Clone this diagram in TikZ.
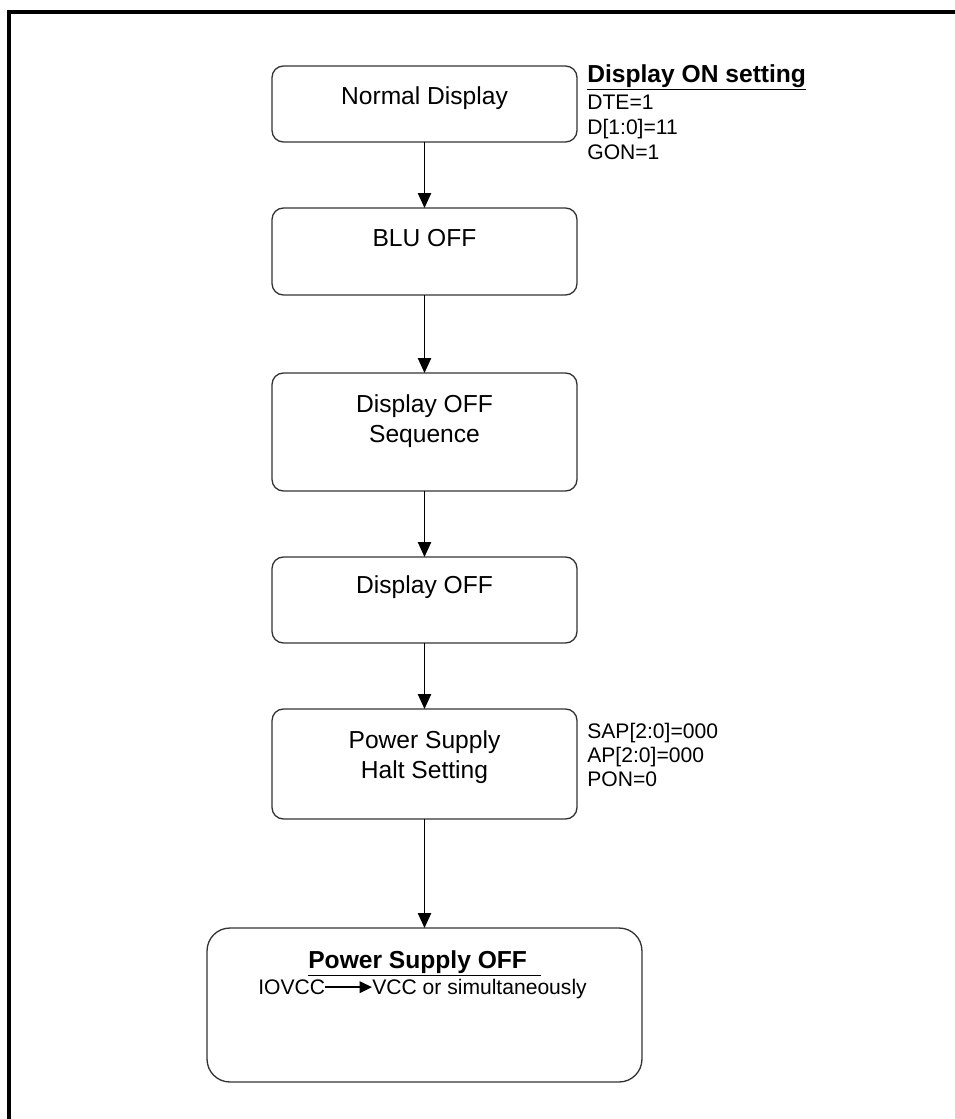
\documentclass[tikz,border=0pt]{standalone}
\usepackage{fontspec}
\setmainfont{Liberation Sans}
\usetikzlibrary{arrows.meta}
\begin{document}
\begin{tikzpicture}[x=0.02cm,y=-0.02cm,
  stepbox/.style={draw=black!80, line width=0.75pt, rounded corners=6.5pt, inner sep=0pt, outer sep=0pt, minimum width=6.1cm},
  boxtext/.style={font=\fontsize{14}{17}\selectfont, align=center, anchor=base, inner sep=0pt},
  sidetext/.style={font=\fontsize{12}{13.6}\selectfont, align=left, anchor=base west, inner sep=0pt},
  flow/.style={line width=0.9pt, -{Triangle[length=8.5pt, width=7.5pt]}},
  frame/.style={line width=1.8pt}]
\useasboundingbox (0,0) rectangle (955,1119);
\fill[white] (0,0) rectangle (955,1119);
% outer frame (cropped)
\draw[frame] (960,12) -- (9,12) -- (9,1125);
% boxes
\node[stepbox, minimum height=1.52cm] (normal) at (424.5,104) {};
\node[stepbox, minimum height=1.74cm] (blu) at (424.5,251.5) {};
\node[stepbox, minimum height=2.36cm] (seq) at (424.5,432) {};
\node[stepbox, minimum height=1.72cm] (doff) at (424.5,600) {};
\node[stepbox, minimum height=2.2cm] (halt) at (424.5,764) {};
\node[stepbox, minimum width=8.7cm, minimum height=3.08cm, rounded corners=13pt] (psoff) at (424.5,1005) {};
% box texts
\node[boxtext] (tnormal) at (424.5,104) {Normal Display};
\node[boxtext] (tblu) at (424.5,246) {BLU OFF};
\node[boxtext] (tseq) at (424.5,442) {Display OFF\\Sequence};
\node[boxtext] (tdoff) at (424.5,593) {Display OFF};
\node[boxtext] (thalt) at (424.5,778) {Power Supply\\Halt Setting};
\node[boxtext, font=\fontsize{14}{17}\selectfont\bfseries] (tpsoff) at (424.5,968) {\underline{Power Supply OFF\ \ }};
\node[sidetext, anchor=base west] (iovcc) at (258,994) {IOVCC};
\node[sidetext, anchor=base west] (vcc) at (372,994) {VCC or simultaneously};
\draw[line width=1.2pt, -{Triangle[length=7pt, width=6.5pt]}] ([yshift=3.9pt]iovcc.base east) -- ([yshift=3.9pt]vcc.base west);
% side labels
\node[sidetext, font=\fontsize{14}{17}\selectfont\bfseries] (dispon) at (587,82) {\underline{Display ON setting}};
\node[sidetext] (dte) at (587,109) {DTE=1};
\node[sidetext] (d10) at (587,134) {D[1:0]=11};
\node[sidetext] (gon) at (587,159) {GON=1};
\node[sidetext] (sap) at (587,786) {SAP[2:0]=000\\AP[2:0]=000\\PON=0};
% connectors
\draw[flow] (normal) -- (blu);
\draw[flow] (blu) -- (seq);
\draw[flow] (seq) -- (doff);
\draw[flow] (doff) -- (halt);
\draw[flow] (halt) -- (psoff);
\end{tikzpicture}
\end{document}
